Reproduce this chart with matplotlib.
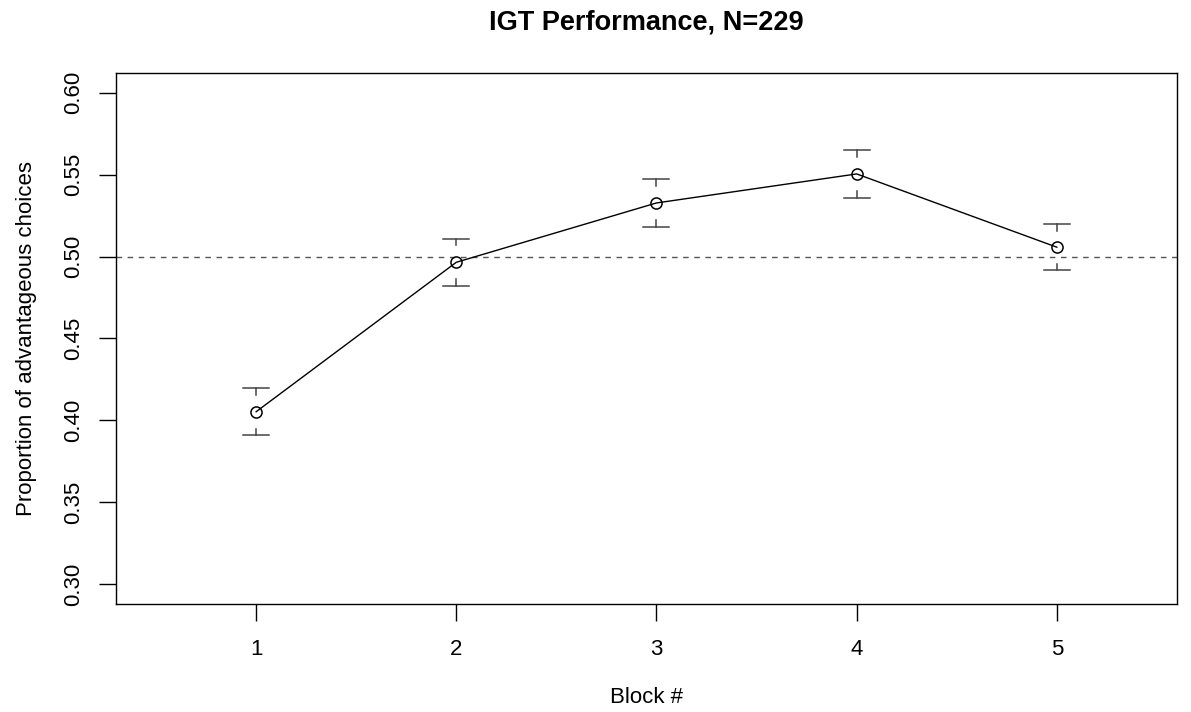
import matplotlib
matplotlib.use("Agg")
import matplotlib.pyplot as plt
import numpy as np

plt.rcParams['font.family'] = ['Liberation Sans', 'DejaVu Sans']

blocks = [1, 2, 3, 4, 5]
prop = [0.4053, 0.4965, 0.5327, 0.5504, 0.5057]
se = [0.0144, 0.0144, 0.0146, 0.0144, 0.0141]
yticks = [0.30, 0.35, 0.40, 0.45, 0.50, 0.55, 0.60]

fig = plt.figure(figsize=(11.91, 7.12), dpi=100)
ax = fig.add_axes([0.0974, 0.1517, 0.8908, 0.7458])

ax.axhline(0.5, color='#555555', ls=(0, (4, 4)), lw=1)
ax.plot(blocks, prop, color='black', lw=1, marker='o', ms=8,
        mfc='none', mec='black', mew=1.1, zorder=3)

# caps with short stems, like R arrows(angle=90)
stem = 0.004
for x, y, s in zip(blocks, prop, se):
    for c, d in ((y + s, -stem), (y - s, stem)):
        ax.plot([x - 0.065, x + 0.065], [c, c], color='#444444', lw=1.1)
        ax.plot([x, x], [c, c + d], color='#444444', lw=1.1)

ax.set_xlim(0.3, 5.6)
ax.set_ylim(0.288, 0.612)
ax.set_xticks(blocks)
ax.set_yticks(yticks)
ax.set_yticklabels(['%.2f' % v for v in yticks], rotation=90, va='center')
ax.tick_params(direction='out', length=12, width=1, labelsize=16)
ax.tick_params(axis='x', pad=13)
ax.tick_params(axis='y', pad=11)
for sp in ax.spines.values():
    sp.set_linewidth(1)

ax.set_title('IGT Performance, N=229', fontsize=19.5, fontweight='bold', pad=31)
ax.set_xlabel('Block #', fontsize=16, labelpad=20)
ax.set_ylabel('Proportion of advantageous choices', fontsize=16, labelpad=19)

fig.savefig('out.png', dpi=100)
